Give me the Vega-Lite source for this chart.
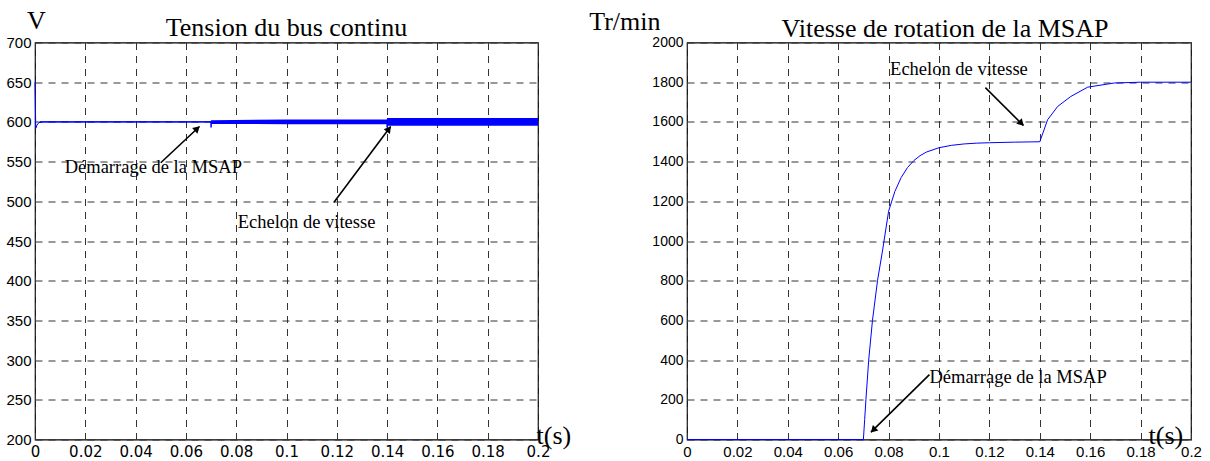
{
  "$schema": "https://vega.github.io/schema/vega-lite/v6.json",
  "background": "white",
  "padding": {"left": 5, "top": 6.5, "right": 5, "bottom": 0},
  "bounds": "flush",
  "spacing": 149,
  "datasets": {
    "bus": [
      {"t": 0, "v": 650}, {"t": 0.0003, "v": 592}, {"t": 0.0008, "v": 596}, {"t": 0.0015, "v": 599},
      {"t": 0.003, "v": 600}, {"t": 0.0699, "v": 600}, {"t": 0.07, "v": 593}, {"t": 0.0702, "v": 600},
      {"t": 0.1399, "v": 600}, {"t": 0.14, "v": 593}, {"t": 0.1402, "v": 600}, {"t": 0.2, "v": 600}
    ],
    "busBand": [
      {"t": 0.002, "v": 599.2, "v2": 600.8}, {"t": 0.0699, "v": 599.2, "v2": 600.8},
      {"t": 0.07, "v": 597.5, "v2": 602}, {"t": 0.1, "v": 597, "v2": 603}, {"t": 0.1399, "v": 597, "v2": 603},
      {"t": 0.14, "v": 595, "v2": 605}, {"t": 0.2, "v": 595, "v2": 605}
    ],
    "arrowsL": [
      {"t": 0.05, "v": 548.5, "t2": 0.0654, "v2": 594.2},
      {"t": 0.1188, "v": 498.5, "t2": 0.1414, "v2": 594.2}
    ],
    "textL": [
      {"t": 0.0118, "v": 536, "label": "Démarrage de la MSAP"},
      {"t": 0.0806, "v": 466.6, "label": "Echelon de vitesse"}
    ],
    "speed": [
      {"t": 0, "v": 0}, {"t": 0.07, "v": 0}, {"t": 0.0705, "v": 100}, {"t": 0.071, "v": 200},
      {"t": 0.0721, "v": 400}, {"t": 0.0736, "v": 600}, {"t": 0.0756, "v": 800}, {"t": 0.0777, "v": 960},
      {"t": 0.08, "v": 1150}, {"t": 0.0825, "v": 1250}, {"t": 0.085, "v": 1320}, {"t": 0.0875, "v": 1370},
      {"t": 0.09, "v": 1405}, {"t": 0.0925, "v": 1430}, {"t": 0.095, "v": 1448}, {"t": 0.1, "v": 1470},
      {"t": 0.105, "v": 1482}, {"t": 0.11, "v": 1489}, {"t": 0.115, "v": 1493}, {"t": 0.12, "v": 1495},
      {"t": 0.13, "v": 1498}, {"t": 0.14, "v": 1500}, {"t": 0.1431, "v": 1611}, {"t": 0.1471, "v": 1678},
      {"t": 0.1523, "v": 1728}, {"t": 0.159, "v": 1775}, {"t": 0.1696, "v": 1796}, {"t": 0.18, "v": 1800},
      {"t": 0.2, "v": 1800}
    ],
    "arrowsR": [
      {"t": 0.0962, "v": 327, "t2": 0.073, "v2": 37},
      {"t": 0.1184, "v": 1773, "t2": 0.1335, "v2": 1582}
    ],
    "textR": [
      {"t": 0.0962, "v": 287, "label": "Démarrage de la MSAP"},
      {"t": 0.0806, "v": 1834, "label": "Echelon de vitesse"}
    ]
  },
  "hconcat": [
    {
      "width": 503,
      "height": 397,
      "title": {"text": "Tension du bus continu", "frame": "group", "anchor": "middle", "baseline": "alphabetic", "offset": -54, "font": "Liberation Serif", "fontSize": 26, "fontWeight": "normal", "color": "black"},
      "encoding": {
        "x": {"field": "t", "type": "quantitative",
          "scale": {"domain": [0, 0.2], "nice": false, "zero": false},
          "axis": {"values": [0, 0.02, 0.04, 0.06, 0.08, 0.1, 0.12, 0.14, 0.16, 0.18, 0.2], "format": "~g",
            "title": "t(s)", "titleX": 501, "titleY": 4, "titleAlign": "left", "titleBaseline": "alphabetic",
            "labelFont": "DejaVu Sans", "labelFontSize": 15}},
        "y": {"field": "v", "type": "quantitative",
          "scale": {"domain": [200, 700], "nice": false, "zero": false},
          "axis": {"values": [200, 250, 300, 350, 400, 450, 500, 550, 600, 650, 700], "format": "d",
            "title": "V", "titleAngle": 0, "titleX": 1, "titleY": -14, "titleAlign": "center", "titleBaseline": "alphabetic"}}
      },
      "layer": [
        {"data": {"name": "busBand"}, "mark": {"type": "area", "color": "#0000ff", "opacity": 1}, "encoding": {"y2": {"field": "v2"}}},
        {"data": {"name": "bus"}, "mark": {"type": "line", "color": "#0000ff", "strokeWidth": 1}, "encoding": {}},
        {"data": {"name": "arrowsL"}, "mark": {"type": "rule", "color": "black", "strokeWidth": 1.6}, "encoding": {"x2": {"field": "t2"}, "y2": {"field": "v2"}}},
        {"data": {"values": [{"t": 0.0645, "v": 591.6}]}, "mark": {"type": "point", "shape": "triangle-up", "angle": 47, "filled": true, "color": "black", "size": 60, "opacity": 1}, "encoding": {}},
        {"data": {"values": [{"t": 0.1407, "v": 591.2}]}, "mark": {"type": "point", "shape": "triangle-up", "angle": 37, "filled": true, "color": "black", "size": 60, "opacity": 1}, "encoding": {}},
        {"data": {"name": "textL"}, "mark": {"type": "text", "align": "left", "baseline": "alphabetic", "font": "Liberation Serif", "fontSize": 18.5, "color": "black"}, "encoding": {"text": {"field": "label"}}}
      ]
    },
    {
      "width": 504,
      "height": 397,
      "title": {"text": "Vitesse de rotation de  la MSAP", "frame": "group", "anchor": "middle", "baseline": "alphabetic", "offset": -54, "dx": 6, "font": "Liberation Serif", "fontSize": 26, "fontWeight": "normal", "color": "black"},
      "encoding": {
        "x": {"field": "t", "type": "quantitative",
          "scale": {"domain": [0, 0.2], "nice": false, "zero": false},
          "axis": {"values": [0, 0.02, 0.04, 0.06, 0.08, 0.1, 0.12, 0.14, 0.16, 0.18, 0.2], "format": "~g",
            "title": "t(s)", "titleX": 461, "titleY": 4, "titleAlign": "left", "titleBaseline": "alphabetic",
            "labelFontSize": 15}},
        "y": {"field": "v", "type": "quantitative",
          "scale": {"domain": [0, 2000], "nice": false, "zero": false},
          "axis": {"values": [0, 200, 400, 600, 800, 1000, 1200, 1400, 1600, 1800, 2000], "format": "d",
            "title": "Tr/min", "titleAngle": 0, "titleX": -27, "titleY": -13, "titleAlign": "right", "titleBaseline": "alphabetic",
            "labelFontSize": 14}}
      },
      "layer": [
        {"data": {"name": "speed"}, "mark": {"type": "line", "color": "#0000ff", "strokeWidth": 1}, "encoding": {}},
        {"data": {"name": "arrowsR"}, "mark": {"type": "rule", "color": "black", "strokeWidth": 1.6}, "encoding": {"x2": {"field": "t2"}, "y2": {"field": "v2"}}},
        {"data": {"values": [{"t": 0.0739, "v": 47.6}]}, "mark": {"type": "point", "shape": "triangle-up", "angle": 225, "filled": true, "color": "black", "size": 60, "opacity": 1}, "encoding": {}},
        {"data": {"values": [{"t": 0.1327, "v": 1592.6}]}, "mark": {"type": "point", "shape": "triangle-up", "angle": 135, "filled": true, "color": "black", "size": 60, "opacity": 1}, "encoding": {}},
        {"data": {"name": "textR"}, "mark": {"type": "text", "align": "left", "baseline": "alphabetic", "font": "Liberation Serif", "fontSize": 18.5, "color": "black"}, "encoding": {"text": {"field": "label"}}}
      ]
    }
  ],
  "config": {
    "view": {"stroke": "black", "strokeWidth": 1.2},
    "axis": {
      "grid": true, "gridColor": "#333333", "gridDash": [7, 6], "gridWidth": 1, "gridOpacity": 1,
      "ticks": false, "domain": false,
      "labelColor": "black", "labelFont": "Liberation Sans", "labelFontSize": 15,
      "labelFlush": false, "labelOverlap": false, "labelPadding": 4,
      "titleFont": "Liberation Serif", "titleFontSize": 26, "titleFontWeight": "normal", "titleColor": "black"
    },
    "axisX": {"labelPadding": 5}
  }
}
